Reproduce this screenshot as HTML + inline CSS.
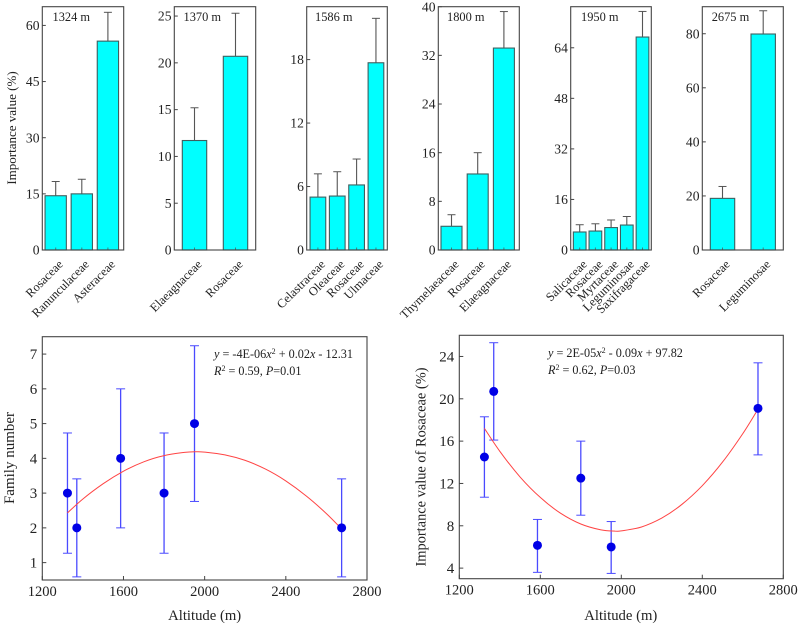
<!DOCTYPE html>
<html lang="en">
<head>
<meta charset="utf-8">
<title>Importance value and family number by altitude</title>
<style>
html,body{margin:0;padding:0;background:#fff;}
svg{display:block;font-family:"Liberation Serif",serif;fill:#222;}
</style>
</head>
<body>
<svg id="fig" xmlns="http://www.w3.org/2000/svg" width="799" height="626" viewBox="0 0 799 626"></svg>
<script>
// Panel 1324 m
const categories1324 = ["Rosaceae", "Ranunculaceae", "Asteraceae"];
const values1324 = [14.5, 15, 55.8];
const errorTops1324 = [18.3, 18.9, 63.5];
const ticks1324 = [0, 15, 30, 45, 60];
// Panel 1370 m
const categories1370 = ["Elaeagnaceae", "Rosaceae"];
const values1370 = [11.7, 20.7];
const errorTops1370 = [15.2, 25.3];
const ticks1370 = [0, 5, 10, 15, 20, 25];
// Panel 1586 m
const categories1586 = ["Celastraceae", "Oleaceae", "Rosaceae", "Ulmaceae"];
const values1586 = [5, 5.1, 6.15, 17.7];
const errorTops1586 = [7.2, 7.4, 8.6, 21.9];
const ticks1586 = [0, 6, 12, 18];
// Panel 1800 m
const categories1800 = ["Thymelaeaceae", "Rosaceae", "Elaeagnaceae"];
const values1800 = [3.9, 12.5, 33.2];
const errorTops1800 = [5.8, 16, 39.2];
const ticks1800 = [0, 8, 16, 24, 32, 40];
// Panel 1950 m
const categories1950 = ["Salicaceae", "Rosaceae", "Myrtaceae", "Leguminosae", "Saxifragaceae"];
const values1950 = [5.7, 6, 7.1, 7.9, 67.4];
const errorTops1950 = [8, 8.3, 9.5, 10.6, 75.5];
const ticks1950 = [0, 16, 32, 48, 64];
// Panel 2675 m
const categories2675 = ["Rosaceae", "Leguminosae"];
const values2675 = [19.1, 79.9];
const errorTops2675 = [23.5, 88.5];
const ticks2675 = [0, 20, 40, 60, 80];
// Scatter: altitude values shared by both lower charts
const altitudes = [1324, 1370, 1586, 1800, 1950, 2675];
const altitudeTicks = [1200, 1600, 2000, 2400, 2800];
// Scatter: family number
const familyValues = [3, 2, 4, 3, 5, 2];
const familyLow = [1.27, 0.59, 2, 1.27, 2.76, 0.59];
const familyHigh = [4.73, 3.41, 6, 4.73, 7.24, 3.41];
const familyTicks = [1, 2, 3, 4, 5, 6, 7];
const familyCurveX = [1324, 1400, 1500, 1600, 1700, 1800, 1900, 1960, 2000, 2100, 2200, 2300, 2400, 2500, 2600, 2675];
const familyCurveY = [2.43, 2.83, 3.27, 3.63, 3.9, 4.08, 4.17, 4.19, 4.18, 4.1, 3.94, 3.69, 3.35, 2.92, 2.41, 1.97];
// Scatter: importance value of Rosaceae
const rosaceaeValues = [14.5, 20.7, 6.15, 12.5, 6, 19.1];
const rosaceaeLow = [10.7, 16.1, 3.6, 9, 3.5, 14.7];
const rosaceaeHigh = [18.3, 25.3, 8.6, 16, 8.4, 23.4];
const rosaceaeTicks = [4, 8, 12, 16, 20, 24];
const rosaceaeCurveX = [1324, 1400, 1500, 1600, 1700, 1800, 1900, 1970, 2000, 2100, 2200, 2300, 2400, 2500, 2600, 2675];
const rosaceaeCurveY = [17.2, 15.04, 12.62, 10.68, 9.19, 8.17, 7.61, 7.5, 7.52, 7.89, 8.73, 10.03, 11.79, 14.02, 16.71, 19.03];

const svg = document.getElementById('fig');
const NS = 'http://www.w3.org/2000/svg';
const FRAME = '#444';

function make(tag, attrs, name, parent) {
  const el = document.createElementNS(NS, tag);
  for (const k in attrs) el.setAttribute(k, attrs[k]);
  
  
  (parent || svg).appendChild(el);
  return el;
}
function label(str, x, y, size, anchor, rotate, name, parent) {
  const attrs = {x: x, y: y, 'font-size': size, 'text-anchor': anchor};
  if (rotate) attrs.transform = 'rotate(' + rotate + ' ' + x + ' ' + y + ')';
  const t = make('text', attrs, name, parent);
  t.textContent = str;
  return t;
}
function line(x1, y1, x2, y2, stroke, width, name, parent) {
  return make('line', {x1: x1, y1: y1, x2: x2, y2: y2, stroke: stroke, 'stroke-width': width}, name, parent);
}
// Smooth path through the read curve points (Catmull-Rom to Bezier).
function smoothPath(pts) {
  let d = 'M' + pts[0][0].toFixed(1) + ' ' + pts[0][1].toFixed(1);
  for (let i = 0; i < pts.length - 1; i++) {
    const p0 = pts[Math.max(i - 1, 0)], p1 = pts[i], p2 = pts[i + 1], p3 = pts[Math.min(i + 2, pts.length - 1)];
    const c1x = p1[0] + (p2[0] - p0[0]) / 6, c1y = p1[1] + (p2[1] - p0[1]) / 6;
    const c2x = p2[0] - (p3[0] - p1[0]) / 6, c2y = p2[1] - (p3[1] - p1[1]) / 6;
    d += 'C' + c1x.toFixed(1) + ' ' + c1y.toFixed(1) + ' ' + c2x.toFixed(1) + ' ' + c2y.toFixed(1) + ' ' + p2[0].toFixed(1) + ' ' + p2[1].toFixed(1);
  }
  return d;
}

function barPanel(p) {
  const g = make('g', {}, 'bar-panel-' + p.tag);
  const top = 6.7, bottom = 250;
  const y = v => bottom - v / p.yMax * (bottom - top);
  const x = i => p.first + p.step * i;

  p.ticks.forEach(t => {
    line(p.left, y(t), p.left + 3.5, y(t), FRAME, 1, 'y-tick', g);
    label(String(t), p.left - 2.8, y(t) + 4.6, 13.6, 'end', 0, 'y-tick-label', g);
  });
  p.values.forEach((v, i) => {
    const cx = x(i);
    line(cx, y(v), cx, y(p.tops[i]), '#555', 1.1, 'error-bar', g);
    line(cx - 4, y(p.tops[i]), cx + 4, y(p.tops[i]), '#555', 1, 'error-cap', g);
    make('rect', {x: cx - p.barW / 2, y: y(v), width: p.barW, height: bottom - y(v),
      fill: '#00ffff', stroke: '#3f5f5f', 'stroke-width': 1.1}, 'bar-' + p.categories[i].toLowerCase(), g);
    line(cx, bottom, cx, bottom - 2.5, '#3f7f7f', 1, 'x-tick', g);
    label(p.categories[i], cx + 8, bottom + 15, 12.4, 'end', -45, 'category-label', g);
  });
  make('rect', {x: p.left, y: top, width: p.right - p.left, height: bottom - top,
    fill: 'none', stroke: FRAME, 'stroke-width': 1.1}, 'plot-frame', g);
  label(p.tag + ' m', p.labelX, 21, 12.4, 'start', 0, 'altitude-label', g);
}

function scatter(p) {
  const g = make('g', {}, p.name);
  const x = v => p.left + (v - 1200) / 1600 * (p.right - p.left);
  const y = v => p.bottom - (v - p.yMin) / (p.yMax - p.yMin) * (p.bottom - p.top);

  altitudeTicks.forEach(t => {
    line(x(t), p.bottom, x(t), p.bottom - 4, FRAME, 1, 'x-tick', g);
    label(String(t), x(t), p.bottom + 16, 14.5, 'middle', 0, 'x-tick-label', g);
  });
  p.ticks.forEach(t => {
    line(p.left, y(t), p.left + 4, y(t), FRAME, 1, 'y-tick', g);
    label(String(t), p.left - 5, y(t) + 5, 15, 'end', 0, 'y-tick-label', g);
  });
  altitudes.forEach((a, i) => {
    const cx = x(a);
    line(cx, y(p.low[i]), cx, y(p.high[i]), '#4a4aff', 1.3, 'error-bar', g);
    line(cx - 4.5, y(p.low[i]), cx + 4.5, y(p.low[i]), '#4a4aff', 1, 'error-cap-low', g);
    line(cx - 4.5, y(p.high[i]), cx + 4.5, y(p.high[i]), '#4a4aff', 1, 'error-cap-high', g);
  });
  const pts = p.curveX.map((cxv, i) => [x(cxv), y(p.curveY[i])]);
  make('path', {d: smoothPath(pts), fill: 'none', stroke: '#f44', 'stroke-width': 1}, 'quadratic-fit-curve', g);
  altitudes.forEach((a, i) => {
    make('circle', {cx: x(a), cy: y(p.values[i]), r: 4.5, fill: '#0000e6'}, 'data-point-' + a, g);
  });
  make('rect', {x: p.left, y: p.top, width: p.right - p.left, height: p.bottom - p.top,
    fill: 'none', stroke: FRAME, 'stroke-width': 1.1}, 'plot-frame', g);
  label('Altitude (m)', (p.left + p.right) / 2 + p.xTitleShift, 620, 14.7, 'middle', 0, 'x-axis-title', g);
  label(p.yTitle, p.yTitleX, p.yTitleY, p.yTitleSize, 'middle', -90, 'y-axis-title', g);
}

function equation(parts, x, y, name) {
  const t = make('text', {x: x, y: y, 'font-size': 12.2}, name);
  parts.forEach(part => {
    const s = document.createElementNS(NS, 'tspan');
    s.textContent = part[0];
    if (part[1] === 'i') s.setAttribute('font-style', 'italic');
    if (part[1] === 's') { s.setAttribute('font-size', '8'); s.setAttribute('dy', '-4'); }
    if (part[2]) s.setAttribute('dy', part[2]);
    t.appendChild(s);
  });
}

barPanel({tag: '1324', left: 42.3, right: 123.7, yMax: 65, first: 55.7, step: 26.1, barW: 21.3, labelX: 52.5,
  categories: categories1324, values: values1324, tops: errorTops1324, ticks: ticks1324});
barPanel({tag: '1370', left: 174.3, right: 255.7, yMax: 26, first: 194.5, step: 41, barW: 24.4, labelX: 183.5,
  categories: categories1370, values: values1370, tops: errorTops1370, ticks: ticks1370});
barPanel({tag: '1586', left: 306.7, right: 387.3, yMax: 23, first: 317.9, step: 19.35, barW: 15.7, labelX: 315,
  categories: categories1586, values: values1586, tops: errorTops1586, ticks: ticks1586});
barPanel({tag: '1800', left: 438.3, right: 519.3, yMax: 40, first: 451.5, step: 26.2, barW: 21, labelX: 447,
  categories: categories1800, values: values1800, tops: errorTops1800, ticks: ticks1800});
barPanel({tag: '1950', left: 570.7, right: 651.3, yMax: 77, first: 579.7, step: 15.7, barW: 12.7, labelX: 581,
  categories: categories1950, values: values1950, tops: errorTops1950, ticks: ticks1950});
barPanel({tag: '2675', left: 702.3, right: 783.3, yMax: 90, first: 722.5, step: 40.7, barW: 24.4, labelX: 711.7,
  categories: categories2675, values: values2675, tops: errorTops2675, ticks: ticks2675});

label('Importance value (%)', 16, 128, 13, 'middle', -90, 'y-axis-title');

scatter({name: 'family-number-chart', left: 42.3, right: 367, top: 336.7, bottom: 580, yMin: 0.5, yMax: 7.5,
  values: familyValues, low: familyLow, high: familyHigh, ticks: familyTicks,
  curveX: familyCurveX, curveY: familyCurveY, yTitle: 'Family number', yTitleX: 14, yTitleY: 458, yTitleSize: 15, xTitleShift: 0});
scatter({name: 'rosaceae-importance-chart', left: 459.3, right: 783.3, top: 335.3, bottom: 578.7, yMin: 3, yMax: 26,
  values: rosaceaeValues, low: rosaceaeLow, high: rosaceaeHigh, ticks: rosaceaeTicks,
  curveX: rosaceaeCurveX, curveY: rosaceaeCurveY, yTitle: 'Importance value of Rosaceae (%)', yTitleX: 425.5, yTitleY: 467, yTitleSize: 14.4, xTitleShift: -0.5});

equation([['y', 'i'], [' = -4E-06'], ['x', 'i'], ['2', 's'], [' + 0.02', '', '4'], ['x', 'i'], [' - 12.31']], 214, 358, 'fit-equation');
equation([['R', 'i'], ['2', 's'], [' = 0.59, ', '', '4'], ['P', 'i'], ['=0.01']], 214, 375, 'fit-statistics');
equation([['y', 'i'], [' = 2E-05'], ['x', 'i'], ['2', 's'], [' - 0.09', '', '4'], ['x', 'i'], [' + 97.82']], 548, 357, 'fit-equation');
equation([['R', 'i'], ['2', 's'], [' = 0.62, ', '', '4'], ['P', 'i'], ['=0.03']], 548, 374, 'fit-statistics');
</script>
</body>
</html>
